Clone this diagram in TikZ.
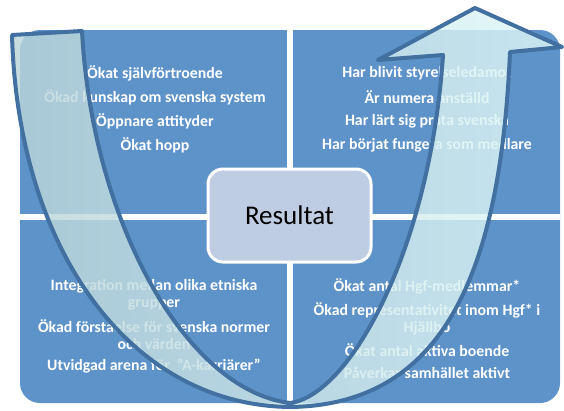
\documentclass[tikz,border=0pt]{standalone}
\usepackage{fontspec}
\setmainfont{Carlito}
\usepackage{tikz}
\usetikzlibrary{positioning}

\definecolor{quadblue}{RGB}{94,147,202}
\definecolor{boxlav}{RGB}{191,205,227}
\definecolor{arrline}{RGB}{66,112,160}
\definecolor{armgrey}{RGB}{186,213,217}
\definecolor{armcyan}{RGB}{223,248,248}

\begin{document}
\begin{tikzpicture}[x=1pt,y=-1pt,node distance=24pt,on grid]
       \tikzstyle{item}=[text=white,font=\bfseries\fontsize{15.8}{17}\selectfont,align=center,inner sep=0pt]
       \tikzstyle{result}=[fill=boxlav,draw=white,line width=3pt,rounded corners=15pt,minimum width=163pt,minimum height=93pt,font=\fontsize{27}{32}\selectfont]
       \tikzstyle{swoosh}=[left color=armgrey,right color=armcyan,fill opacity=0.82,draw=arrline,line width=4pt,line join=round]

       \useasboundingbox (0,0) rectangle (564,410);

       % four quadrants with a white cross between them
       \fill[quadblue,rounded corners=20pt] (20,30) rectangle (560,403);
       \fill[white] (287,30) rectangle (293,403);
       \fill[white] (20,214) rectangle (560,220);

       \node[item] (tl_0) at (155,73) {Ökat självförtroende};
       \node[item] (tl_1) [below=of tl_0] {Ökad kunskap om svenska system};
       \node[item] (tl_2) [below=of tl_1] {Öppnare attityder};
       \node[item] (tl_3) [below=of tl_2] {Ökat hopp};

       \node[item] (tr_0) at (427,73) {Har blivit styrelseledamot};
       \node[item] (tr_1) [below=of tr_0] {Är numera anställd};
       \node[item] (tr_2) [below=of tr_1] {Har lärt sig prata svenska};
       \node[item] (tr_3) [below=of tr_2] {Har börjat fungera som medlare};

       \node[item] (bl_0) at (154,294.5) {Integration mellan olika etniska\\grupper};
       \node[item] (bl_1) [below=40pt of bl_0] {Ökad förståelse för svenska normer\\och värden};
       \node[item] (bl_2) [below=31.5pt of bl_1] {Utvidgad arena för~ ”A-karriärer”};

       \node[item] (br_0) at (427,286) {Ökat antal Hgf-medlemmar*};
       \node[item] (br_1) [below=32.5pt of br_0] {Ökad representativitet inom Hgf* i\\Hjällbo};
       \node[item] (br_2) [below=31.5pt of br_1] {Ökat antal aktiva boende};
       \node[item] (br_3) [below=23pt of br_2] {Påverkar samhället aktivt};

       \node[result] (res) at (289.5,215.5) {Resultat};

       % the big U-turn arrow
       \path[swoosh] (12,35) .. controls (18,250) and (130,405) .. (290,407)
             .. controls (440,405) and (500,280) .. (510,52)
             -- (562,47) -- (475,8) -- (378,60) -- (443,55)
             .. controls (430,250) and (350,395) .. (290,403)
             .. controls (185,390) and (92,220) .. (82,31) -- cycle;
     \end{tikzpicture}
\end{document}
